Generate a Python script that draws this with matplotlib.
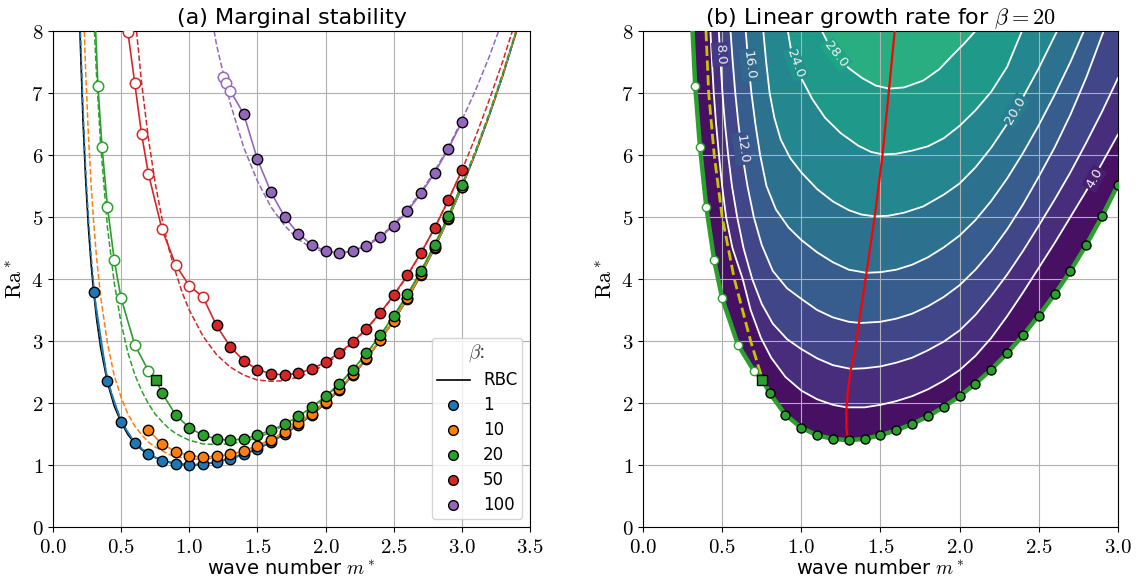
import numpy as np
import matplotlib
matplotlib.use("Agg")
import matplotlib.pyplot as plt
from matplotlib.lines import Line2D
from matplotlib.ticker import FuncFormatter, MultipleLocator

plt.rcParams['mathtext.fontset'] = 'cm'
plt.rcParams['font.family'] = ['DejaVu Sans']

# ---------------- data: marginal stability ----------------
# Rayleigh-Benard reference curve
m_rbc = [0.195, 0.20, 0.22, 0.24, 0.26, 0.28, 0.30, 0.32, 0.35, 0.40, 0.45, 0.50,
         0.55, 0.60, 0.65, 0.70, 0.80, 0.90, 1.0, 1.1, 1.2, 1.3, 1.4, 1.5, 1.6,
         1.7, 1.8, 1.9, 2.0, 2.1, 2.2, 2.3, 2.4, 2.5, 2.6, 2.7, 2.8, 2.9, 3.0,
         3.1, 3.2, 3.3, 3.4, 3.45]
ra_rbc = [8.25, 7.86, 6.58, 5.60, 4.84, 4.24, 3.76, 3.36, 2.89, 2.33, 1.95, 1.69,
          1.49, 1.35, 1.25, 1.17, 1.07, 1.02, 1.00, 1.01, 1.05, 1.10, 1.17, 1.26, 1.37,
          1.50, 1.65, 1.81, 2.00, 2.21, 2.45, 2.71, 3.01, 3.33, 3.68, 4.07, 4.50, 4.97, 5.48,
          6.03, 6.63, 7.28, 7.99, 8.36]

# approximate (dashed) curves, one per beta
m_dash = [0.20, 0.22, 0.24, 0.26, 0.28, 0.30, 0.32, 0.35, 0.40, 0.45, 0.50, 0.55,
          0.60, 0.65, 0.70, 0.75, 0.80, 0.85, 0.90, 0.95, 1.0, 1.1, 1.2, 1.3, 1.4,
          1.5, 1.6, 1.7, 1.8, 1.9, 2.0, 2.1, 2.2, 2.3, 2.4, 2.5, 2.6, 2.7, 2.8, 2.9,
          3.0, 3.1, 3.2, 3.3, 3.4, 3.5]
nan = np.nan
dash_b1 = [8.11, 6.79, 5.77, 4.99, 4.37, 3.87, 3.46, 2.97, 2.39, 2.00, 1.73, 1.52,
           1.38, 1.27, 1.19, 1.13, 1.09, 1.05, 1.03, 1.01, 1.01, 1.02, 1.05, 1.11, 1.18,
           1.27, 1.38, 1.50, 1.65, 1.81, 2.00, 2.21, 2.45, 2.71, 3.01, 3.33, 3.68, 4.07, 4.50, 4.97,
           5.48, 6.03, 6.63, 7.28, 7.99, 8.75]
dash_b10 = [10.36, 8.65, 7.34, 6.32, 5.52, 4.87, 4.34, 3.71, 2.96, 2.44, 2.09, 1.82,
            1.63, 1.49, 1.37, 1.29, 1.23, 1.17, 1.14, 1.11, 1.10, 1.09, 1.12, 1.16, 1.22,
            1.31, 1.41, 1.53, 1.68, 1.84, 2.03, 2.23, 2.47, 2.73, 3.02, 3.34, 3.70, 4.09, 4.51, 4.98,
            5.49, 6.04, 6.64, 7.29, 8.00, 8.76]
dash_b20 = [nan, nan, nan, nan, 9.34, 8.20, 7.27, 6.16, 4.83, 3.93, 3.29, 2.81,
            2.46, 2.20, 1.99, 1.82, 1.70, 1.59, 1.51, 1.45, 1.40, 1.34, 1.33, 1.34, 1.38,
            1.44, 1.53, 1.64, 1.77, 1.92, 2.10, 2.30, 2.53, 2.79, 3.08, 3.39, 3.74, 4.13, 4.55, 5.02,
            5.52, 6.07, 6.67, 7.32, 8.02, 8.78]
dash_b50 = [nan, nan, nan, nan, nan, nan, nan, nan, nan, nan, nan, 9.75,
            8.29, 7.17, 6.27, 5.55, 4.97, 4.49, 4.11, 3.77, 3.50, 3.08, 2.78, 2.58, 2.45,
            2.37, 2.35, 2.36, 2.42, 2.50, 2.63, 2.78, 2.97, 3.19, 3.44, 3.73, 4.05, 4.42, 4.82, 5.27,
            5.75, 6.29, 6.88, 7.51, 8.20, 8.95]
dash_b100 = [nan, nan, nan, nan, nan, nan, nan, nan, nan, nan, nan, nan,
             nan, nan, nan, nan, nan, nan, nan, nan, nan, 9.03, 7.78, 6.84, 6.12,
             5.58, 5.16, 4.86, 4.64, 4.50, 4.43, 4.41, 4.45, 4.55, 4.69, 4.88, 5.12, 5.40, 5.74, 6.12,
             6.56, 7.04, 7.58, 8.18, nan, nan]

# computed points (filled = stationary branch, open = other branch)
m_b1 = [0.3, 0.4, 0.5, 0.6, 0.7, 0.8, 0.9, 1.0, 1.1, 1.2, 1.3, 1.4, 1.5, 1.6,
        1.7, 1.8, 1.9, 2.0, 2.1, 2.2, 2.3, 2.4, 2.5, 2.6, 2.7, 2.8, 2.9, 3.0]
ra_b1 = [3.79, 2.35, 1.70, 1.36, 1.17, 1.07, 1.02, 1.00, 1.01, 1.05, 1.10, 1.17, 1.26, 1.37,
         1.50, 1.65, 1.81, 2.00, 2.21, 2.45, 2.71, 3.01, 3.33, 3.68, 4.07, 4.50, 4.97, 5.48]

m_b10 = [0.7, 0.8, 0.9, 1.0, 1.1, 1.2, 1.3, 1.4, 1.5, 1.6, 1.7, 1.8, 1.9, 2.0,
         2.1, 2.2, 2.3, 2.4, 2.5, 2.6, 2.7, 2.8, 2.9, 3.0]
ra_b10 = [1.56, 1.34, 1.215, 1.15, 1.13, 1.14, 1.17, 1.23, 1.31, 1.41, 1.53, 1.67, 1.83, 2.02,
          2.23, 2.46, 2.72, 3.01, 3.33, 3.69, 4.08, 4.51, 4.98, 5.49]

m_b20_top, ra_b20_top = 0.30, 8.7
m_b20_open = [0.33, 0.36, 0.40, 0.45, 0.50, 0.60, 0.70]
ra_b20_open = [7.11, 6.13, 5.16, 4.30, 3.69, 2.94, 2.52]
m_b20_sq, ra_b20_sq = 0.755, 2.376
m_b20 = [0.8, 0.9, 1.0, 1.1, 1.2, 1.3, 1.4, 1.5, 1.6, 1.7, 1.8, 1.9, 2.0,
         2.1, 2.2, 2.3, 2.4, 2.5, 2.6, 2.7, 2.8, 2.9, 3.0]
ra_b20 = [2.16, 1.81, 1.60, 1.48, 1.42, 1.40, 1.42, 1.48, 1.56, 1.66, 1.785, 1.935, 2.11,
          2.31, 2.54, 2.80, 3.09, 3.41, 3.75, 4.13, 4.55, 5.01, 5.52]

m_b50_open = [0.55, 0.60, 0.65, 0.70, 0.80, 0.90, 1.00, 1.10]
ra_b50_open = [7.98, 7.16, 6.34, 5.70, 4.80, 4.23, 3.89, 3.71]
m_b50 = [1.2, 1.3, 1.4, 1.5, 1.6, 1.7, 1.8, 1.9, 2.0, 2.1, 2.2, 2.3, 2.4, 2.5,
         2.6, 2.7, 2.8, 2.9, 3.0]
ra_b50 = [3.25, 2.91, 2.68, 2.54, 2.47, 2.455, 2.48, 2.55, 2.66, 2.81, 2.98, 3.20, 3.45, 3.74,
          4.06, 4.42, 4.82, 5.27, 5.75]

m_b100_open = [1.25, 1.27, 1.30]
ra_b100_open = [7.26, 7.16, 7.04]
m_b100 = [1.4, 1.5, 1.6, 1.7, 1.8, 1.9, 2.0, 2.1, 2.2, 2.3, 2.4, 2.5, 2.6, 2.7,
          2.8, 2.9, 3.0]
ra_b100 = [6.66, 5.93, 5.40, 5.00, 4.73, 4.55, 4.45, 4.415, 4.45, 4.53, 4.67, 4.86, 5.09, 5.38,
           5.71, 6.10, 6.53]

betas = [1, 10, 20, 50, 100]
colors = ['#1f77b4', '#ff7f0e', '#2ca02c', '#d62728', '#9467bd']

# ---------------- data: growth rate for beta = 20 ----------------
growth_levels = [4, 8, 12, 16, 20, 24, 28]
c04_m = [0.426, 0.436, 0.447, 0.462, 0.48, 0.50, 0.525, 0.565, 0.63, 0.68, 0.745, 0.81, 0.90,
         1.0, 1.1, 1.2, 1.285, 1.4, 1.5, 1.6, 1.7, 1.8, 1.9, 2.0, 2.1, 2.2, 2.3, 2.4, 2.5,
         2.6, 2.7, 2.8, 2.9, 3.0]
c04_ra = [8.0, 7.5, 7.0, 6.5, 6.0, 5.5, 5.0, 4.5, 4.0, 3.5, 3.05, 2.73, 2.42,
          2.20, 2.06, 1.97, 1.93, 1.93, 1.97, 2.03, 2.11, 2.22, 2.36, 2.53, 2.76, 3.05, 3.40, 3.78, 4.18,
          4.58, 5.0, 5.42, 5.87, 6.33]
c08_m = [0.479, 0.49, 0.502, 0.518, 0.538, 0.562, 0.595, 0.635, 0.69, 0.75, 0.82, 0.91,
         1.0, 1.1, 1.2, 1.313, 1.4, 1.5, 1.6, 1.7, 1.8, 1.9, 2.0, 2.1, 2.2, 2.3, 2.4, 2.5,
         2.6, 2.7, 2.8, 2.9, 3.0]
c08_ra = [8.0, 7.5, 7.0, 6.5, 6.0, 5.5, 5.0, 4.5, 4.0, 3.6, 3.28, 3.03,
          2.87, 2.72, 2.61, 2.55, 2.56, 2.59, 2.65, 2.73, 2.85, 2.99, 3.17, 3.42, 3.73, 4.07, 4.45, 4.86,
          5.28, 5.72, 6.2, 6.7, 7.24]
c12_m = [0.553, 0.567, 0.583, 0.603, 0.628, 0.66, 0.70, 0.75, 0.82, 0.91, 1.0, 1.1, 1.2,
         1.3, 1.375, 1.5, 1.6, 1.7, 1.8, 1.9, 2.0, 2.1, 2.2, 2.3, 2.4, 2.5, 2.6, 2.7, 2.8, 2.91]
c12_ra = [8.0, 7.5, 7.0, 6.5, 6.0, 5.5, 5.0, 4.55, 4.13, 3.85, 3.68, 3.50, 3.38,
          3.31, 3.29, 3.31, 3.36, 3.44, 3.56, 3.71, 3.90, 4.15, 4.45, 4.80, 5.20, 5.65, 6.12, 6.65, 7.25, 8.0]
c16_m = [0.649, 0.665, 0.685, 0.71, 0.74, 0.78, 0.84, 0.92, 1.0, 1.1, 1.2, 1.3, 1.41,
         1.5, 1.6, 1.7, 1.8, 1.9, 2.0, 2.1, 2.2, 2.3, 2.4, 2.5, 2.6, 2.7, 2.785]
c16_ra = [8.0, 7.5, 7.0, 6.5, 6.0, 5.5, 5.12, 4.83, 4.63, 4.43, 4.27, 4.15, 4.10,
          4.11, 4.15, 4.23, 4.35, 4.51, 4.70, 4.95, 5.26, 5.62, 6.03, 6.48, 6.97, 7.5, 8.0]
c20_m = [0.76, 0.778, 0.80, 0.83, 0.87, 0.93, 1.0, 1.1, 1.2, 1.3, 1.38, 1.464,
         1.55, 1.65, 1.77, 1.9, 2.0, 2.1, 2.2, 2.3, 2.4, 2.5, 2.616]
c20_ra = [8.0, 7.5, 7.0, 6.6, 6.25, 5.95, 5.72, 5.45, 5.25, 5.11, 5.04, 5.01,
          5.02, 5.07, 5.17, 5.36, 5.54, 5.80, 6.12, 6.50, 6.93, 7.40, 8.0]
c24_m = [0.915, 0.935, 0.97, 1.0, 1.07, 1.15, 1.25, 1.36, 1.44, 1.513,
         1.6, 1.7, 1.8, 1.9, 2.0, 2.1, 2.2, 2.3, 2.394]
c24_ra = [8.0, 7.7, 7.43, 7.24, 6.9, 6.6, 6.35, 6.15, 6.05, 6.01,
          6.02, 6.07, 6.14, 6.27, 6.47, 6.72, 7.02, 7.42, 8.0]
c28_m = [1.13, 1.17, 1.22, 1.3, 1.385, 1.47, 1.555, 1.65, 1.77, 1.87, 1.96, 2.03, 2.10]
c28_ra = [8.0, 7.8, 7.62, 7.4, 7.24, 7.12, 7.07, 7.09, 7.2, 7.38, 7.62, 7.8, 8.0]

# wave number of fastest growth
m_fastest = [1.295, 1.285, 1.285, 1.295, 1.313, 1.34, 1.365, 1.41, 1.464, 1.513, 1.555, 1.59]
ra_fastest = [1.40, 1.6, 1.9, 2.2, 2.54, 2.87, 3.3, 4.07, 5.01, 6.0, 7.08, 8.0]

# branch separation line
m_branch = [0.398, 0.415, 0.45, 0.50, 0.577, 0.68, 0.755]
ra_branch = [8.0, 7.0, 6.0, 5.0, 4.0, 3.0, 2.376]

# contour labels: level, m, Ra, rotation
label_level = [4, 8, 12, 16, 20, 24, 28]
label_m = [2.85, 0.486, 0.624, 0.667, 2.35, 0.965, 1.22]
label_ra = [5.62, 7.62, 6.1, 7.45, 6.72, 7.47, 7.62]
label_rot = [60, -86, -82, -83, 60, -70, -52]

# ---------------- figure ----------------
fig = plt.figure(figsize=(11.39, 5.86), dpi=100)
ax1 = fig.add_axes([0.0465, 0.1007, 0.4188, 0.8464])
ax2 = fig.add_axes([0.5645, 0.1007, 0.417, 0.8464])

fmt1 = FuncFormatter(lambda v, _: f'${v:.1f}$')
fmt0 = FuncFormatter(lambda v, _: f'${v:.0f}$')
for ax, xmax in ((ax1, 3.5), (ax2, 3.0)):
    ax.set_xlim(0, xmax)
    ax.set_ylim(0, 8)
    ax.xaxis.set_major_locator(MultipleLocator(0.5))
    ax.yaxis.set_major_locator(MultipleLocator(1))
    ax.xaxis.set_major_formatter(fmt1)
    ax.yaxis.set_major_formatter(fmt0)
    ax.tick_params(labelsize=15)
    ax.grid(True, color='#b0b0b0', lw=0.8)
    ax.set_xlabel('wave number $m^*$', fontsize=14, labelpad=2)
    ax.set_ylabel(r'$\mathrm{Ra}^*$', fontsize=16, labelpad=4)

# ----- panel (a) -----
ax1.plot(m_rbc, ra_rbc, color='k', lw=1.2, zorder=2)
dash_sets = [dash_b1, dash_b10, dash_b20, dash_b50, dash_b100]
for ra_d, c in zip(dash_sets, colors):
    ax1.plot(m_dash, ra_d, color=c, lw=1.1, ls='--', zorder=2)

ms1 = 7.5
solid_kw = dict(lw=1.2, zorder=3)
fill_kw = dict(ls='none', marker='o', ms=ms1, mec='k', mew=1.0, zorder=4)
open_kw = dict(ls='none', marker='o', ms=ms1, mfc='white', mew=1.1, zorder=4)

# beta = 1
ax1.plot(m_b1, ra_b1, color=colors[0], **solid_kw)
ax1.plot(m_b1, ra_b1, mfc=colors[0], **fill_kw)
# beta = 10
ax1.plot(m_b10, ra_b10, color=colors[1], **solid_kw)
ax1.plot(m_b10, ra_b10, mfc=colors[1], **fill_kw)
# beta = 20
line20_m = [m_b20_top] + m_b20_open + [m_b20_sq] + m_b20
line20_ra = [ra_b20_top] + ra_b20_open + [ra_b20_sq] + ra_b20
ax1.plot(line20_m, line20_ra, color=colors[2], **solid_kw)
ax1.plot(m_b20_open, ra_b20_open, mec=colors[2], **open_kw)
ax1.plot([m_b20_sq], [ra_b20_sq], ls='none', marker='s', ms=ms1, mfc=colors[2],
         mec='k', mew=1.0, zorder=4)
ax1.plot(m_b20, ra_b20, mfc=colors[2], **fill_kw)
# beta = 50
ax1.plot(m_b50_open + m_b50, ra_b50_open + ra_b50, color=colors[3], **solid_kw)
ax1.plot(m_b50_open, ra_b50_open, mec=colors[3], **open_kw)
ax1.plot(m_b50, ra_b50, mfc=colors[3], **fill_kw)
# beta = 100
ax1.plot(m_b100_open + m_b100, ra_b100_open + ra_b100, color=colors[4], **solid_kw)
ax1.plot(m_b100_open, ra_b100_open, mec=colors[4], **open_kw)
ax1.plot(m_b100, ra_b100, mfc=colors[4], **fill_kw)

handles = [Line2D([], [], color='k', lw=1.2, label='RBC')]
for b, c in zip(betas, colors):
    handles.append(Line2D([], [], ls='none', marker='o', ms=7, mfc=c, mec='k',
                          mew=1.0, label=str(b)))
leg = ax1.legend(handles=handles, loc='lower right', title=r'$\beta$:',
                 fontsize=12, title_fontsize=14, borderaxespad=0.45,
                 borderpad=0.3, handlelength=2.0, labelspacing=0.42)
leg.get_title().set_color('#444444')
ax1.set_title('(a) Marginal stability', fontsize=16, pad=5)

# ----- panel (b) -----
cmap = plt.get_cmap('viridis')
vmax = 48.0


def band_color(lower):
    return cmap((lower + 2.0) / vmax)


def fill_region(ax, xs, ys, color):
    px = list(xs) + [3.3, xs[0]]
    py = list(ys) + [8.9, 8.9]
    ax.fill(px, py, color=color, lw=0, zorder=1)


fill_region(ax2, line20_m, line20_ra, band_color(0))
contour_sets = [(c04_m, c04_ra), (c08_m, c08_ra), (c12_m, c12_ra), (c16_m, c16_ra),
                (c20_m, c20_ra), (c24_m, c24_ra), (c28_m, c28_ra)]
for lvl, (cm_, cr_) in zip(growth_levels, contour_sets):
    fill_region(ax2, cm_, cr_, band_color(lvl))
for cm_, cr_ in contour_sets:
    ax2.plot(cm_, cr_, color='white', lw=1.3, zorder=2)

for lvl, lm, lr, rot in zip(label_level, label_m, label_ra, label_rot):
    ax2.text(lm, lr, f'{lvl:.1f}', color='#f0f0f0', fontsize=9.5, rotation=rot,
             ha='center', va='center', rotation_mode='anchor', zorder=3,
             bbox=dict(boxstyle='square,pad=0.12', fc=cmap(lvl / vmax), ec='none'))

ax2.plot(m_fastest, ra_fastest, color='red', lw=1.6, zorder=3)
ax2.plot(m_branch, ra_branch, color='#c8c400', lw=2.0, ls='--', zorder=3)
ax2.plot(line20_m, line20_ra, color=colors[2], lw=3.2, zorder=4)
ax2.plot(m_b20_open, ra_b20_open, ls='none', marker='o', ms=6, mfc='white',
         mec=colors[2], mew=1.0, zorder=5)
ax2.plot([m_b20_sq], [ra_b20_sq], ls='none', marker='s', ms=6.5, mfc=colors[2],
         mec='k', mew=1.0, zorder=5)
ax2.plot(m_b20, ra_b20, ls='none', marker='o', ms=6.5, mfc=colors[2], mec='k',
         mew=1.0, zorder=5)
ax2.set_title(r'(b) Linear growth rate for $\beta = 20$', fontsize=16, pad=5)

fig.savefig('out.png', dpi=100)
